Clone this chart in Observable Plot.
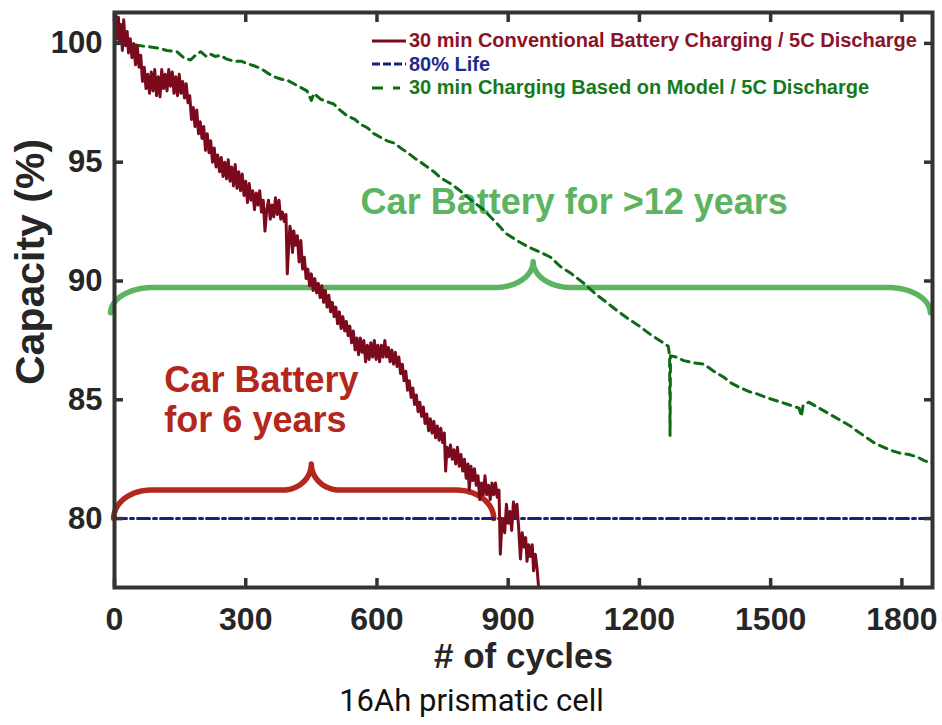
<!DOCTYPE html>
<html>
<head>
<meta charset="utf-8">
<script src="https://cdn.jsdelivr.net/npm/d3@7"></script>
<script src="https://cdn.jsdelivr.net/npm/@observablehq/plot@0.6"></script>
<style>
  body { margin: 0; background: #fff; }
  #wrap { position: relative; width: 942px; height: 725px; }
  #legend { position: absolute; left: 371px; top: 29px; font: bold 20px "Liberation Sans", Arial, sans-serif; }
  #legend .row { display: flex; align-items: center; height: 23.5px; white-space: nowrap; }
  #legend svg { width: 36px; height: 10px; margin-right: 2px; }
</style>
</head>
<body>
<div id="wrap"><div id="legend"></div></div>
<script>
// ---------- data ----------
const seriesNames = [
  "30 min Conventional Battery Charging / 5C Discharge",
  "80% Life",
  "30 min Charging Based on Model / 5C Discharge"
];
const xTicks = [0, 300, 600, 900, 1200, 1500, 1800];
const yTicks = [80, 85, 90, 95, 100];
const xLabel = "# of cycles";
const yLabel = "Capacity (%)";
const captionText = "16Ah prismatic cell";
const annotationTexts = ["Car Battery for >12 years", "Car Battery\nfor 6 years"];

// Conventional charging (dark red, noisy)
const conventionalCycles = [0,3,6,9,12,15,18,21,25,29,32,36,40,44,48,52,56,60,
  64,68,72,76,80,84,88,92,96,100,104,108,112,116,120,124,128,132,136,140,144,148,152,156,160,164,168,
  172,176,180,184,188,192,196,200,204,208,212,216,220,224,228,
  232,236,240,244,248,252,256,260,264,268,272,276,280,284,288,292,296,300,304,308,312,316,320,324,328,332,336,340,344,348,352,356,360,364,368,372,376,380,384,388,392,
  395,398,401,404,407,410,414,418,422,426,430,434,438,
  442,446,450,454,458,462,466,470,474,478,482,486,490,494,498,502,506,510,514,518,522,526,530,534,538,
  542,546,550,554,558,562,566,570,574,578,582,586,590,594,598,602,606,610,614,618,622,626,630,634,638,642,646,650,654,658,
  662,666,670,674,678,682,686,690,694,698,702,706,710,714,718,722,726,730,734,738,742,746,750,754,757,760,
  764,768,772,776,780,784,788,792,796,800,804,808,811,815,819,823,827,831,835,839,843,847,851,855,859,863,867,871,875,879,
  882,885,888,892,896,900,904,908,912,916,920,924,928,932,936,940,943,947,951,955,958,962,966,970];
const conventionalCapacity = [100.6,101.3,100.2,101.1,100.0,100.8,99.7,101.0,99.9,100.5,99.6,100.2,99.4,100.0,99.1,99.9,99.0,99.5,
  98.4,99.0,98.1,98.7,97.9,98.8,98.0,98.9,97.8,98.6,97.75,98.9,98.1,98.7,98.0,98.9,98.2,98.8,97.9,98.6,97.8,98.7,97.9,98.4,97.7,98.3,97.5,
  97.8,96.8,97.3,96.5,97.2,96.2,96.7,96.0,96.5,95.5,96.2,95.4,95.9,95.0,95.6,
  94.8,95.3,94.6,95.2,94.4,95.0,94.3,95.1,94.2,94.8,94.0,94.9,93.9,94.6,93.8,94.5,93.6,94.2,93.3,94.1,93.4,93.8,93.0,93.7,93.2,93.8,92.9,93.4,92.1,93.0,93.4,92.6,93.2,92.7,93.5,92.8,93.4,92.6,92.9,92.5,92.8,
  90.3,91.4,92.3,92.0,91.2,92.1,91.5,91.9,90.8,91.7,90.5,91.0,90.1,
  90.5,89.8,90.3,89.6,90.1,89.5,89.9,89.3,89.8,89.1,89.6,88.9,89.4,88.7,89.1,88.5,88.9,88.2,88.7,88.0,88.5,87.9,88.3,87.7,88.1,
  87.4,87.9,87.1,87.6,86.9,87.6,87.0,87.5,86.6,87.3,86.7,87.4,86.8,87.5,86.7,87.3,86.6,87.3,86.8,87.5,86.8,87.2,86.6,87.1,86.5,87.0,86.4,86.8,86.1,86.5,
  85.8,86.2,85.4,85.8,85.1,85.5,84.8,85.2,84.5,84.9,84.3,84.7,84.0,84.4,83.7,84.2,83.6,84.1,83.4,83.9,83.3,83.8,83.2,83.6,82.0,83.0,
  82.6,83.1,82.5,82.9,82.3,83.0,82.2,82.7,82.0,82.5,81.7,82.3,81.2,82.2,81.6,82.1,81.4,81.8,80.8,81.5,81.0,81.8,81.0,81.4,80.8,81.5,81.0,81.5,80.9,81.2,
  78.5,79.6,80.0,79.4,80.6,79.8,80.3,79.5,80.7,80.1,80.6,79.6,78.3,79.4,78.8,79.2,78.2,78.9,78.4,78.9,77.8,78.5,77.9,77.0];

// 80% life reference
const lifeCycles = [0, 1870];
const lifeCapacity = [80, 80];

// Model-based charging (dark green, dashed)
const modelCycles = [0,2,10,21,30,44,60,82,100,120,143,158,174,185,197,210,219,230,242,255,273,290,303,320,334,350,364,380,395,410,425,440,450,456,471,485,501,515,532,550,562,578,593,608,623,640,654,670,684,700,715,730,745,768,790,815,844,870,895,920,950,975,997,1020,1045,1073,1100,1125,1149,1175,1200,1225,1250,1266,1269,1270,1271,1285,1301,1325,1347,1370,1393,1410,1431,1450,1469,1490,1515,1540,1565,1570,1574,1587,1606,1625,1644,1663,1682,1700,1720,1740,1759,1778,1797,1816,1835,1850,1865,1870];
const modelCapacity = [100.0,100.1,100.0,100.2,100.0,99.95,99.9,99.85,99.8,99.7,99.65,99.4,99.3,99.5,99.65,99.45,99.55,99.45,99.5,99.35,99.25,99.25,99.15,99.05,98.95,98.75,98.6,98.5,98.45,98.3,98.15,98.0,97.6,97.9,97.65,97.55,97.45,97.2,96.95,96.8,96.6,96.45,96.2,96.05,95.9,95.8,95.6,95.4,95.2,95.0,94.8,94.6,94.35,94.1,93.8,93.4,93.0,92.5,92.0,91.7,91.4,91.2,91.0,90.6,90.3,89.9,89.45,89.1,88.75,88.4,88.1,87.75,87.45,87.25,86.85,83.5,86.85,86.8,86.65,86.55,86.5,86.2,85.95,85.7,85.5,85.35,85.25,85.1,84.95,84.8,84.65,84.3,84.75,84.9,84.7,84.5,84.3,84.1,83.9,83.65,83.4,83.15,83.0,82.85,82.75,82.7,82.6,82.45,82.35,82.3];

// annotation anchors (data units)
const annotationX = [1051, 114];
const annotationY = [93.3, 85.03];
const greenBrace = {x1: -9, xm: 957, x2: 1865, yEnd: 88.66, yBar: 89.73, yTip: 90.82, corner: 98, tip: 85};
const redBrace = {x1: -2, xm: 450, x2: 867, yEnd: 80.0, yBar: 81.2, yTip: 82.3, corner: 85, tip: 65};

// ---------- styles ----------
const colors = ["#7b0a1d", "#17237a", "#0c6b14"];
const textColors = ["#8a1428", "#1e2c8c", "#167a1c"];
const green = "#5cb360", red = "#b3271d", axisInk = "#262626", frameInk = "#333";
const font = "'Liberation Sans', Arial, sans-serif";

// ---------- build tables ----------
const conventional = conventionalCycles.map((c, i) => ({cycle: c, capacity: conventionalCapacity[i]}));
const life = lifeCycles.map((c, i) => ({cycle: c, capacity: lifeCapacity[i]}));
const model = modelCycles.map((c, i) => ({cycle: c, capacity: modelCapacity[i]}));

function bracePoints(b, n = 16) {
  const pts = [];
  const h = b.yBar - b.yEnd, th = b.yTip - b.yBar, q = Math.PI / 2;
  for (let i = 0; i <= n; i++) { const t = i / n * q; pts.push([b.x1 + b.corner * (1 - Math.cos(t)), b.yEnd + h * Math.sin(t)]); }
  for (let i = 0; i <= n; i++) { const t = i / n * q; pts.push([b.xm - b.tip + b.tip * Math.sin(t), b.yBar + th * (1 - Math.cos(t))]); }
  for (let i = n; i >= 0; i--) { const t = i / n * q; pts.push([b.xm + b.tip - b.tip * Math.sin(t), b.yBar + th * (1 - Math.cos(t))]); }
  for (let i = n; i >= 0; i--) { const t = i / n * q; pts.push([b.x2 - b.corner * (1 - Math.cos(t)), b.yEnd + h * Math.sin(t)]); }
  return pts;
}

const annotations = annotationTexts.map((t, i) => ({text: t, x: annotationX[i], y: annotationY[i]}));

const chart = Plot.plot({
  width: 942,
  height: 725,
  marginLeft: 114,
  marginRight: 10,
  marginTop: 12,
  marginBottom: 138,
  x: {domain: [0, 1870]},
  y: {domain: [77.1, 101.3]},
  style: {background: "white", fontFamily: font},
  marks: [
    Plot.line(bracePoints(greenBrace), {x: d => d[0], y: d => d[1], stroke: green, strokeWidth: 5.5}),
    Plot.line(bracePoints(redBrace), {x: d => d[0], y: d => d[1], stroke: red, strokeWidth: 5.5}),
    Plot.text([annotations[0]], {x: "x", y: "y", text: "text", fill: green, fontSize: 36, fontWeight: "bold"}),
    Plot.text([annotations[1]], {x: "x", y: "y", text: "text", fill: red, fontSize: 36, fontWeight: "bold", textAnchor: "start", lineHeight: 1.11}),
    Plot.line(life, {x: "cycle", y: "capacity", stroke: colors[1], strokeWidth: 3, strokeDasharray: "12,4,3,4"}),
    Plot.line(model, {x: "cycle", y: "capacity", stroke: colors[2], strokeWidth: 3, strokeDasharray: "8,6", clip: true}),
    Plot.line(conventional, {x: "cycle", y: "capacity", stroke: colors[0], strokeWidth: 3, clip: true}),
    // inward ticks on all four sides
    Plot.axisX(xTicks, {anchor: "bottom", tickSize: -9, strokeWidth: 3.5, stroke: frameInk, tickFormat: () => "", label: null}),
    Plot.axisX(xTicks, {anchor: "top", tickSize: -9, strokeWidth: 3.5, stroke: frameInk, tickFormat: () => "", label: null}),
    Plot.axisY(yTicks, {anchor: "left", tickSize: -9, strokeWidth: 3.5, stroke: frameInk, tickFormat: () => "", label: null}),
    Plot.axisY(yTicks, {anchor: "right", tickSize: -9, strokeWidth: 3.5, stroke: frameInk, tickFormat: () => "", label: null}),
    // tick labels
    Plot.axisX(xTicks, {anchor: "bottom", tickSize: 0, tickPadding: 20, tickFormat: d => String(d), fontSize: 32, fontWeight: "bold", fill: axisInk, label: null, ariaLabel: "x-labels"}),
    Plot.axisY(yTicks, {anchor: "left", tickSize: 0, tickPadding: 12, tickFormat: d => String(d), fontSize: 31, fontWeight: "bold", fill: axisInk, label: null}),
    Plot.frame({stroke: frameInk, strokeWidth: 4}),
    // axis titles and caption
    Plot.text([xLabel], {frameAnchor: "bottom", dy: 80, fontSize: 35, fontWeight: "bold", fill: axisInk}),
    Plot.text([yLabel], {frameAnchor: "left", dx: -84, dy: 85, rotate: -90, fontSize: 41, fontWeight: "bold", fill: axisInk, ariaLabel: "ytitle"}),
    Plot.text([captionText], {frameAnchor: "bottom", dx: -52, dy: 123, fontSize: 31, fontFamily: "Roboto, sans-serif", fill: "#111", ariaLabel: "caption"})
  ]
});
document.getElementById("wrap").prepend(chart);

// reproduce the reference's anisotropic text stretching
function stretch(sel, sx) {
  d3.select(chart).selectAll(sel)
    .attr("transform", function() { return (this.getAttribute("transform") || "") + ` scale(${sx},1)`; });
}
stretch("g[aria-label='x-labels'] text", 0.86);
stretch("g[aria-label='ytitle'] text", 1.6);
stretch("g[aria-label='caption'] text", 0.9);

// legend (inside the plot, top right)
const dashes = [null, "8,3", "11,10,7"];
const legend = d3.select("#legend");
seriesNames.forEach((name, i) => {
  const row = legend.append("div").attr("class", "row").style("color", textColors[i]);
  const svg = row.append("svg");
  svg.append("line").attr("x1", 1).attr("x2", 35).attr("y1", 5).attr("y2", 5)
    .attr("stroke", colors[i]).attr("stroke-width", 3)
    .attr("stroke-dasharray", dashes[i]);
  row.append("span").text(name);
});
</script>
</body>
</html>
